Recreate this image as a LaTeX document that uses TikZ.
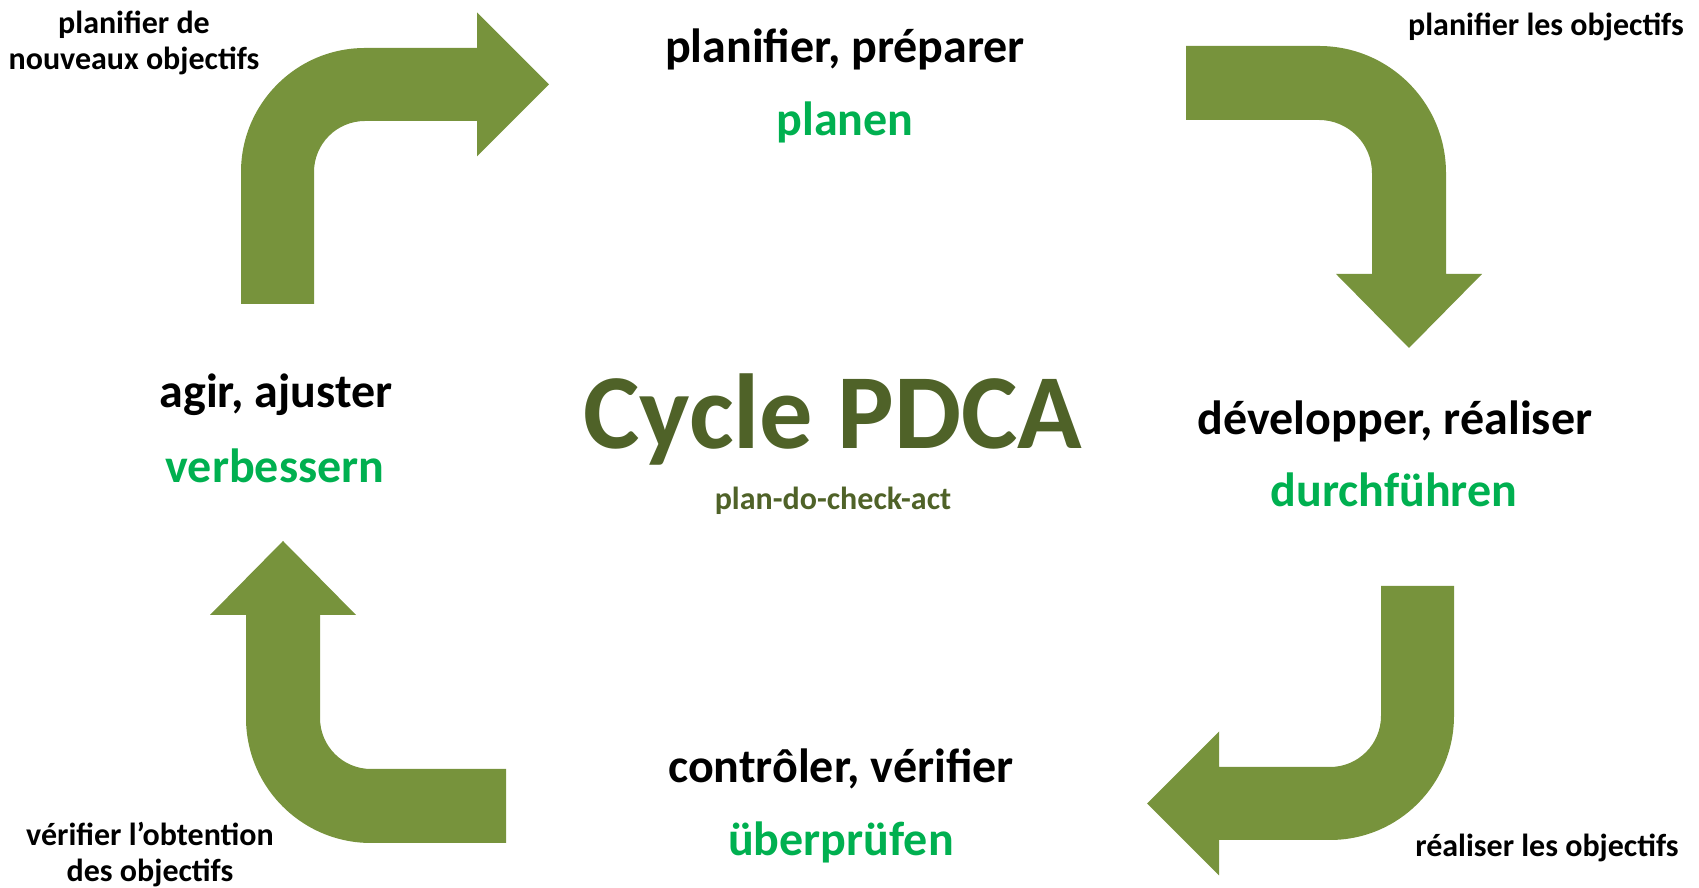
\documentclass[tikz,border=0pt]{standalone}
\usepackage{fontspec}
\setmainfont{Carlito}
\definecolor{arrowgreen}{HTML}{77933C}
\definecolor{titlegreen}{HTML}{4F6228}
\definecolor{verbgreen}{HTML}{00B050}
\tikzset{
  blockarrow/.style={fill=arrowgreen, draw=none},
  phase/.style={anchor=base, inner sep=0pt, font=\fontsize{13.65}{16}\selectfont\bfseries, text=black},
  verb/.style={anchor=base, inner sep=0pt, font=\fontsize{13.65}{16}\selectfont\bfseries, text=verbgreen},
  note/.style={anchor=base, inner sep=0pt, align=center, font=\fontsize{9.1}{10.3}\selectfont\bfseries, text=black},
}
\begin{document}
\begin{tikzpicture}[x=0.01cm, y=0.01cm]
\useasboundingbox (0,0) rectangle (1699,888);

% top-left bent arrow: up, then right
\fill[blockarrow] (241,584) -- (241,716) arc[start angle=180, end angle=90, radius=124]
  -- (477,840) -- (477,875.5) -- (549,803.5) -- (477,731.5) -- (477,767)
  -- (365,767) arc[start angle=90, end angle=180, radius=51] -- (314,584) -- cycle;

% top-right bent arrow: right, then down
\fill[blockarrow] (1186,842) -- (1319,842) arc[start angle=90, end angle=0, radius=127]
  -- (1446,614) -- (1482,614) -- (1409,540) -- (1336,614) -- (1372,614)
  -- (1372,715) arc[start angle=0, end angle=90, radius=53] -- (1186,768) -- cycle;

% bottom-right bent arrow: down, then left
\fill[blockarrow] (1381,302) -- (1454,302) -- (1454,172) arc[start angle=0, end angle=-90, radius=124]
  -- (1219,48) -- (1219,12.5) -- (1147,84.5) -- (1219,156.5) -- (1219,121)
  -- (1330,121) arc[start angle=-90, end angle=0, radius=51] -- cycle;

% bottom-left bent arrow: left, then up
\fill[blockarrow] (506,45) -- (371,45) arc[start angle=-90, end angle=-180, radius=125]
  -- (246,273) -- (210,273) -- (283,347) -- (356,273) -- (320,273)
  -- (320,170) arc[start angle=180, end angle=270, radius=51] -- (506,119) -- cycle;

% centre title
\node[anchor=base, inner sep=0pt, font=\fontsize{30.3}{36}\selectfont\bfseries, text=titlegreen]
  (title) at (833,439) {Cycle PDCA};
\node[anchor=base, inner sep=0pt, font=\fontsize{9.1}{10.3}\selectfont\bfseries, text=titlegreen]
  (subtitle) at (833,378) {plan-do-check-act};

% the four phases
\node[phase] (plan) at (845,825) {planifier, préparer};
\node[verb]  (planen) at (845,752) {planen};
\node[phase] (do) at (1395,453) {développer, réaliser};
\node[verb]  (durch) at (1394,381) {durchführen};
\node[phase] (check) at (841,105) {contrôler, vérifier};
\node[verb]  (pruef) at (841,32) {überprüfen};
\node[phase] (act) at (276,480) {agir, ajuster};
\node[verb]  (verb) at (275,405) {verbessern};

% notes at the corners (base anchor sits on the last line)
\node[note] (n1) at (134,818) {planifier de\\nouveaux objectifs};
\node[note] (n2) at (1546,852) {planifier les objectifs};
\node[note] (n3) at (1547,31) {réaliser les objectifs};
\node[note] (n4) at (150,6) {vérifier l’obtention\\des objectifs};
\end{tikzpicture}
\end{document}
